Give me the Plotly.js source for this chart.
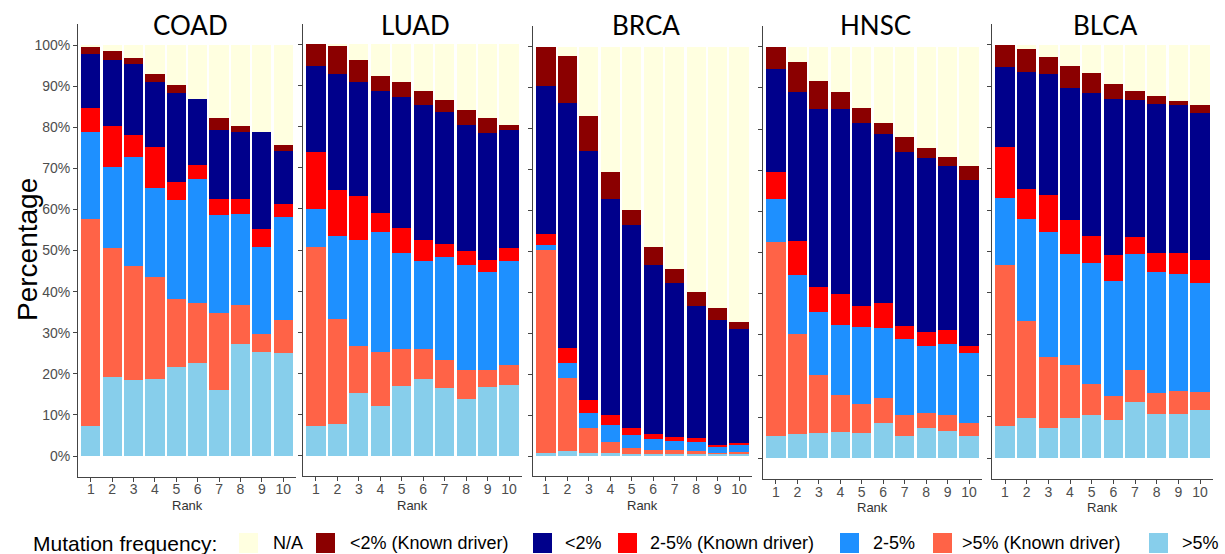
<!DOCTYPE html>
<html>
<head>
<meta charset="utf-8">
<script src="https://cdn.plot.ly/plotly-3.0.1.min.js"></script>
<style>html,body{margin:0;padding:0;background:#fff;}#chart{width:1225px;height:554px;}</style>
</head>
<body>
<div id="chart"></div>
<script>
// ---------- DATA ----------
const panels = ['COAD', 'LUAD', 'BRCA', 'HNSC', 'BLCA'];
const ranks = [1, 2, 3, 4, 5, 6, 7, 8, 9, 10];
// stack order, bottom to top
const seriesNames = ['>5%', '>5% (Known driver)', '2-5%', '2-5% (Known driver)', '<2%', '<2% (Known driver)', 'N/A'];
const seriesColors = ['#87CEEB', '#FF6347', '#1E90FF', '#FF0000', '#00008B', '#8B0000', '#FFFFE0'];
const yTickVals = [0, 10, 20, 30, 40, 50, 60, 70, 80, 90, 100];
const yTickText = ['0%', '10%', '20%', '30%', '40%', '50%', '60%', '70%', '80%', '90%', '100%'];

// each row: one series (in stack order above), values for ranks 1..10 (percent)
const COAD = [
  [7.4, 19.3, 18.5, 18.8, 21.6, 22.6, 16.1, 27.3, 25.4, 25.0],
  [50.2, 31.2, 27.8, 24.7, 16.5, 14.6, 18.8, 9.5, 4.4, 8.0],
  [21.3, 19.9, 26.4, 21.6, 24.2, 30.3, 23.7, 22.2, 21.1, 25.1],
  [5.7, 9.9, 5.3, 10.1, 4.4, 3.4, 3.9, 3.5, 4.4, 3.3],
  [13.2, 16.1, 17.4, 15.9, 21.7, 16.0, 16.8, 16.3, 23.5, 12.8],
  [1.8, 2.2, 1.5, 1.9, 1.9, 0.0, 2.9, 1.6, 0.0, 1.4],
  [0.4, 1.4, 3.1, 7.0, 9.7, 13.1, 17.8, 19.6, 21.2, 24.4]
];
const LUAD = [
  [7.3, 7.7, 15.2, 12.1, 17.0, 18.6, 16.5, 13.8, 16.7, 17.2],
  [43.5, 25.6, 11.5, 13.2, 9.0, 7.4, 6.7, 7.0, 4.2, 4.8],
  [9.1, 20.0, 25.7, 29.1, 23.2, 21.4, 25.0, 25.5, 23.8, 25.4],
  [14.0, 11.2, 10.7, 4.7, 6.1, 5.0, 3.3, 3.5, 2.9, 3.0],
  [20.8, 28.3, 27.7, 29.5, 32.0, 32.8, 32.0, 30.6, 30.8, 28.7],
  [5.3, 6.9, 5.3, 3.8, 3.5, 3.4, 3.0, 3.6, 3.6, 1.3],
  [0.0, 0.3, 3.9, 7.6, 9.2, 11.4, 13.5, 16.0, 18.0, 19.6]
];
const BRCA = [
  [0.8, 1.1, 0.8, 0.8, 0.6, 0.5, 0.5, 0.5, 0.5, 0.5],
  [49.5, 18.0, 6.1, 2.6, 1.3, 1.0, 1.0, 0.8, 0.3, 0.5],
  [1.3, 3.5, 3.5, 4.1, 3.2, 2.6, 2.2, 2.0, 1.5, 1.8],
  [2.6, 3.9, 3.4, 2.5, 1.7, 1.3, 0.9, 1.0, 0.3, 0.3],
  [36.3, 59.7, 60.8, 52.8, 49.6, 41.2, 37.7, 32.3, 30.6, 28.0],
  [9.5, 11.5, 8.5, 6.5, 3.7, 4.5, 3.3, 3.5, 2.9, 1.6],
  [0.0, 2.3, 16.9, 30.7, 39.9, 48.9, 54.4, 59.9, 63.9, 67.3]
];
const HNSC = [
  [5.5, 5.8, 6.1, 6.4, 6.1, 8.5, 5.5, 7.3, 6.6, 5.5],
  [47.1, 24.3, 14.1, 8.9, 7.0, 6.2, 4.9, 3.7, 3.8, 3.0],
  [10.3, 14.4, 15.4, 17.1, 18.9, 17.0, 18.7, 16.3, 17.4, 17.0],
  [6.7, 8.4, 5.9, 7.4, 5.0, 6.0, 3.1, 3.4, 3.4, 1.7],
  [24.9, 36.2, 43.3, 45.1, 44.5, 41.1, 42.3, 42.3, 39.9, 40.4],
  [5.5, 7.2, 6.8, 4.0, 3.7, 2.7, 3.5, 2.4, 2.0, 3.5],
  [0.0, 3.7, 8.4, 11.1, 14.8, 18.5, 22.0, 24.6, 26.9, 28.9]
];
const BLCA = [
  [7.7, 9.7, 7.3, 9.8, 10.4, 9.3, 13.7, 10.6, 10.6, 11.7],
  [39.1, 23.4, 17.3, 12.8, 7.6, 5.8, 7.7, 5.1, 5.7, 4.3],
  [16.2, 24.7, 30.2, 26.8, 29.3, 27.9, 28.0, 29.3, 28.3, 26.3],
  [12.3, 7.4, 9.0, 8.3, 6.6, 6.2, 4.1, 4.7, 5.0, 5.7],
  [19.3, 28.2, 29.2, 31.9, 34.4, 37.7, 33.2, 36.0, 35.8, 35.6],
  [5.4, 5.6, 4.2, 5.3, 4.9, 3.7, 2.2, 2.0, 1.0, 1.8],
  [0.0, 1.0, 2.8, 5.1, 6.8, 9.4, 11.1, 12.3, 13.6, 14.6]
];
const panelData = [COAD, LUAD, BRCA, HNSC, BLCA];

// ---------- LAYOUT (pixel geometry) ----------
const W = 1225, H = 554;
const xDomPx = [[78, 296], [303, 522], [533, 752], [763, 982], [992, 1213]];
const yPx = [[456, 45], [455.7, 44.3], [456, 46.7], [458.3, 46.7], [458.3, 45]]; // [0%, 100%] pixel rows
const yRange = [-5, 105];

const traces = [];
const layout = {
  width: W, height: H,
  margin: {l: 0, r: 0, t: 0, b: 0},
  paper_bgcolor: '#ffffff', plot_bgcolor: 'rgba(0,0,0,0)',
  barmode: 'stack', bargap: 0.1,
  showlegend: false,
  font: {family: 'Liberation Sans, Arial, sans-serif', color: '#4D4D4D'},
  annotations: [], shapes: []
};

panels.forEach((name, p) => {
  const sfx = p === 0 ? '' : String(p + 1);
  const data = panelData[p];
  data.forEach((vals, s) => {
    traces.push({
      type: 'bar', x: ranks, y: vals, name: seriesNames[s],
      xaxis: 'x' + sfx, yaxis: 'y' + sfx,
      marker: {color: seriesColors[s], line: {width: 0}},
      hoverinfo: 'skip', showlegend: false
    });
  });
  const z = yPx[p][0], h = yPx[p][1];
  const sc = (z - h) / 100;
  const botPx = z - (yRange[0]) * sc;
  const topPx = z - (yRange[1]) * sc;
  layout['xaxis' + sfx] = {
    domain: [xDomPx[p][0] / W, xDomPx[p][1] / W],
    anchor: 'y' + sfx,
    range: [0.4, 10.6], type: 'linear',
    tickmode: 'array', tickvals: ranks, ticktext: ranks.map(String),
    ticks: 'outside', ticklen: 4, tickwidth: 1, tickcolor: '#444',
    ticklabelstandoff: -4,
    showline: true, linecolor: '#444', linewidth: 1,
    showgrid: false, zeroline: false, fixedrange: true,
    tickfont: {size: 14, color: '#4D4D4D', family: 'Liberation Sans, Arial, sans-serif'}
  };
  layout['yaxis' + sfx] = {
    domain: [1 - botPx / H, 1 - topPx / H],
    anchor: 'x' + sfx,
    range: yRange,
    tickmode: 'array', tickvals: yTickVals, ticktext: yTickText,
    showticklabels: p === 0,
    ticks: 'outside', ticklen: 4, tickwidth: 1, tickcolor: '#444',
    showline: true, linecolor: '#444', linewidth: 1,
    showgrid: false, zeroline: false, fixedrange: true,
    tickfont: {size: 14, color: '#4D4D4D', family: 'Liberation Sans, Arial, sans-serif'}
  };
  const cx = (xDomPx[p][0] + xDomPx[p][1]) / 2;
  layout.annotations.push({
    text: name, xref: 'paper', yref: 'paper', x: (cx + 3) / W, y: 1 - 25 / H,
    xanchor: 'center', yanchor: 'middle', showarrow: false,
    font: {family: 'Lato, Open Sans, sans-serif', size: 26, color: '#000'}
  });
  layout.annotations.push({
    text: 'Rank', xref: 'paper', yref: 'paper', x: cx / W, y: 1 - (botPx + 29) / H,
    xanchor: 'center', yanchor: 'middle', showarrow: false,
    font: {size: 13, color: '#333'}
  });
});

layout.annotations.push({
  text: 'Percentage', xref: 'paper', yref: 'paper', x: 28 / W, y: 1 - 250 / H,
  xanchor: 'center', yanchor: 'middle', textangle: -90, showarrow: false,
  font: {size: 28, color: '#000', family: 'Liberation Sans, Arial, sans-serif'}
});

// ---------- manual legend ----------
const legendY = 543;
layout.annotations.push({
  text: 'Mutation frequency:', xref: 'paper', yref: 'paper', x: 31 / W, y: 1 - legendY / H,
  xanchor: 'left', yanchor: 'middle', showarrow: false,
  font: {size: 21, color: '#000', family: 'Liberation Sans, Arial, sans-serif'}
});
const legendOrder = [6, 5, 4, 3, 2, 1, 0];
const swatchLeft = [239, 316, 533, 618, 840, 933, 1149];
const textLeft = [271, 348, 563, 648, 871, 960, 1180];
legendOrder.forEach((s, i) => {
  layout.shapes.push({
    type: 'rect', xref: 'paper', yref: 'paper',
    x0: swatchLeft[i] / W, x1: (swatchLeft[i] + 19) / W,
    y0: 1 - (legendY + 10) / H, y1: 1 - (legendY - 10) / H,
    fillcolor: seriesColors[s], line: {width: 0}
  });
  layout.annotations.push({
    text: seriesNames[s].replace(/</g, '&lt;').replace(/>/g, '&gt;'),
    xref: 'paper', yref: 'paper', x: textLeft[i] / W, y: 1 - legendY / H,
    xanchor: 'left', yanchor: 'middle', showarrow: false,
    font: {size: 18, color: '#000', family: 'Liberation Sans, Arial, sans-serif'}
  });
});

Plotly.newPlot('chart', traces, layout, {staticPlot: true, displayModeBar: false});
</script>
</body>
</html>
